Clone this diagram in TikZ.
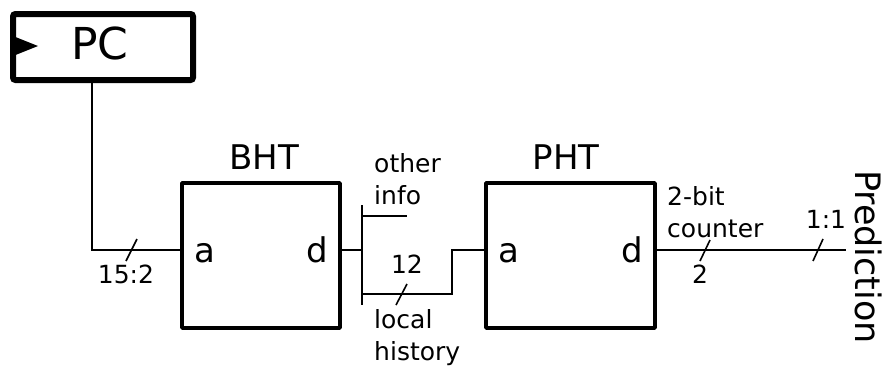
\documentclass[tikz,border=0pt]{standalone}
\usepackage{fontspec}
\setmainfont{DejaVu Sans}
\begin{document}
\begin{tikzpicture}[x=1pt,y=-1pt,
  wire/.style={line width=1.6pt},
  block/.style={draw,line width=3.4pt,line join=round},
  big/.style={font=\fontsize{34}{40}\selectfont,inner sep=0pt},
  small/.style={font=\fontsize{25}{32}\selectfont,inner sep=0pt,align=left},
  buswidth/.style={line width=1.6pt}]
\useasboundingbox (0,0) rectangle (886,367);

% program counter register
\draw[line width=6pt,rounded corners=2.5pt] (13,14) rectangle (193,80);
\coordinate (pcb) at (92,80);
\fill (13,36) -- (38,46) -- (13,56) -- cycle;
\node[font=\fontsize{44}{50}\selectfont,inner sep=0pt,anchor=base] (pc) at (100,59) {PC};

% branch history table
\draw[block] (182,183) rectangle (340,328);
\coordinate (bhta) at (182,250);
\coordinate (bhtd) at (340,250);
\node[big,anchor=base] (bht) at (264,169) {BHT};
\node[big,anchor=base west] (ba) at (194,262) {a};
\node[big,anchor=base east] (bd) at (328,262) {d};

% pattern history table
\draw[block] (486,183) rectangle (655,328);
\coordinate (phta) at (486,250);
\coordinate (phtd) at (655,250);
\node[big,anchor=base] (pht) at (566,169) {PHT};
\node[big,anchor=base west] (pa) at (498,262) {a};
\node[big,anchor=base east] (pd) at (643,262) {d};

% PC bits into BHT
\draw[wire] (pcb) |- (bhta);
\draw[buswidth] (137,239) -- (126,261);
\node[small,anchor=base] (l152) at (126,283) {15:2};

% BHT output split
\coordinate (bus) at (362,250);
\coordinate (bustop) at (362,205);
\coordinate (busbot) at (362,305);
\coordinate (oi) at (407,216);
\coordinate (lh) at (452,294);
\draw[wire] (bhtd) -- (bus);
\draw[wire] (bustop) -- (busbot);
\draw[wire] (362,216) -- (oi);
\draw[wire] (362,294) -| (452,250) -- (phta);
\draw[buswidth] (407,284) -- (396,305);
\node[small,anchor=north west] (other) at (374,153) {other\\info};
\node[small,anchor=base] (n12) at (407,273) {12};
\node[small,anchor=north west] (local) at (374,309) {local\\history};

% PHT output to prediction
\coordinate (out) at (846,250);
\draw[wire] (phtd) -- (out);
\draw[buswidth] (710,240) -- (700,261);
\draw[buswidth] (823,239) -- (813,261);
\node[small,anchor=north west] (ctr) at (667,186) {2-bit\\counter};
\node[small,anchor=base] (n2) at (700,283) {2};
\node[small,anchor=base] (n11) at (826,228) {1:1};
\node[font=\fontsize{35}{40}\selectfont,inner sep=0pt,rotate=-90,anchor=base] (pred) at (855,257) {Prediction};
\end{tikzpicture}
\end{document}
